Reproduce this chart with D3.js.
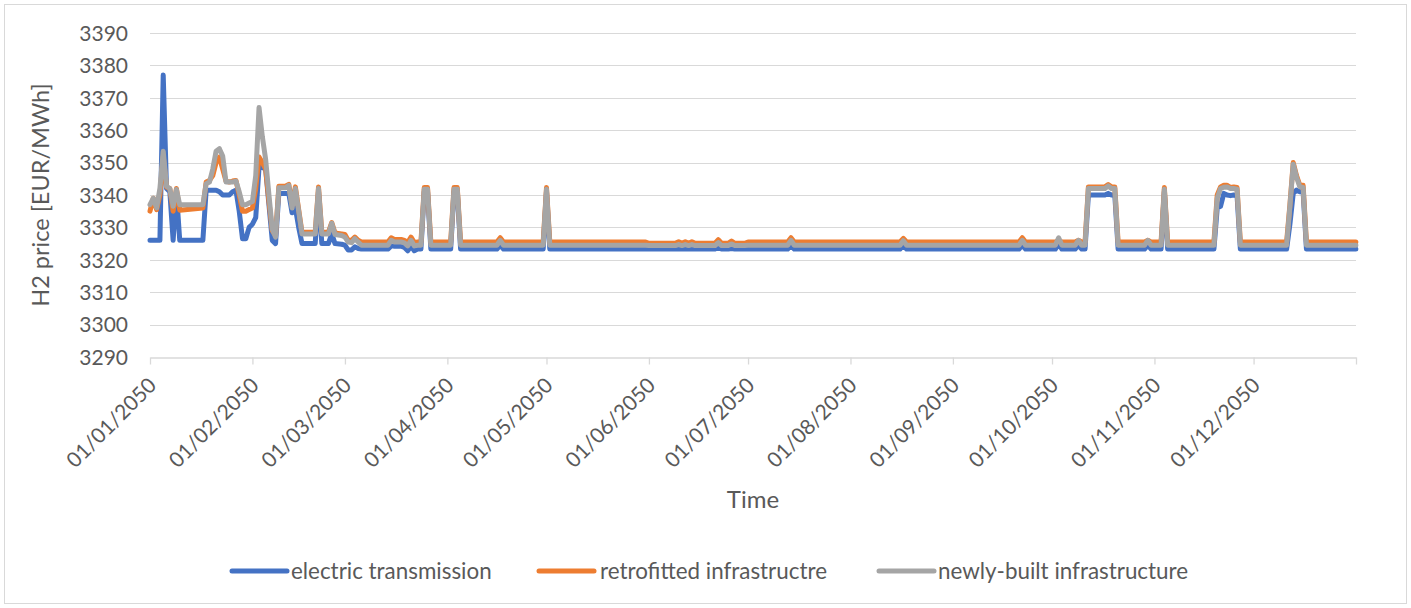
<!DOCTYPE html>
<html>
<head>
<meta charset="utf-8">
<script src="https://cdn.jsdelivr.net/npm/d3@7"></script>
<style>
  html, body { margin: 0; padding: 0; background: #ffffff; }
  svg text { font-family: Lato, "Open Sans", sans-serif; fill: #595959; }
</style>
</head>
<body>
<svg id="chart" width="1411" height="608"></svg>
<script>
// Daily H2 price observations for 2050 (EUR/MWh), one shared date list for all three scenarios
const dates = [
  "2050-01-01","2050-01-02","2050-01-03","2050-01-04","2050-01-05","2050-01-06","2050-01-07","2050-01-08","2050-01-09","2050-01-10",
  "2050-01-17","2050-01-18","2050-01-19","2050-01-20","2050-01-21","2050-01-22","2050-01-23","2050-01-24","2050-01-25","2050-01-26",
  "2050-01-27","2050-01-28","2050-01-29","2050-01-30","2050-01-31",
  "2050-02-01","2050-02-02","2050-02-03","2050-02-04","2050-02-05","2050-02-06","2050-02-07","2050-02-08","2050-02-09","2050-02-10",
  "2050-02-11","2050-02-12","2050-02-13","2050-02-14","2050-02-15","2050-02-16","2050-02-19","2050-02-20","2050-02-21","2050-02-22",
  "2050-02-24","2050-02-25","2050-02-26","2050-02-28",
  "2050-03-01","2050-03-02","2050-03-03","2050-03-04","2050-03-05","2050-03-06","2050-03-14","2050-03-15","2050-03-16","2050-03-18",
  "2050-03-19","2050-03-20","2050-03-21","2050-03-22","2050-03-23","2050-03-24","2050-03-25","2050-03-26","2050-03-27",
  "2050-04-02","2050-04-03","2050-04-04","2050-04-05","2050-04-16","2050-04-17","2050-04-18","2050-04-30",
  "2050-05-01","2050-05-02","2050-05-31",
  "2050-06-01","2050-06-09","2050-06-10","2050-06-11","2050-06-12","2050-06-13","2050-06-14","2050-06-15","2050-06-21","2050-06-22",
  "2050-06-23","2050-06-25","2050-06-26","2050-06-27","2050-06-30",
  "2050-07-01","2050-07-13","2050-07-14","2050-07-15",
  "2050-08-16","2050-08-17","2050-08-18",
  "2050-09-21","2050-09-22","2050-09-23",
  "2050-10-02","2050-10-03","2050-10-04","2050-10-08","2050-10-09","2050-10-10","2050-10-11","2050-10-12","2050-10-17","2050-10-18",
  "2050-10-19","2050-10-20","2050-10-21","2050-10-29","2050-10-30","2050-10-31",
  "2050-11-03","2050-11-04","2050-11-05","2050-11-19","2050-11-20","2050-11-21","2050-11-22","2050-11-23","2050-11-24","2050-11-25",
  "2050-11-26","2050-11-27",
  "2050-12-11","2050-12-12","2050-12-13","2050-12-14","2050-12-15","2050-12-16","2050-12-17","2050-12-31T23:00Z"
];

const electricTransmission = [
  3326,3326,3326,3326,3377,3342,3341,3326,3341,3326,
  3326,3341.5,3341.5,3341.5,3341.5,3341,3340,3340,3340,3341,
  3341.5,3335,3326.5,3326.5,3330,
  3331,3333,3348.5,3348.5,3348,3337,3326,3325,3340.5,3340.5,
  3340.5,3340.5,3334.5,3336,3330,3325,3325,3325,3341,3325,
  3325,3328,3325,3324.8,
  3324.5,3323,3323,3324,3323.5,3323.3,3323.3,3324.3,3324.2,3324.2,
  3323.8,3322.8,3324.3,3322.8,3323.3,3323.3,3341,3341,3323.3,
  3323.3,3341,3341,3323.3,3323.3,3324.5,3323.3,3323.3,
  3341,3323.3,3323.3,
  3323.3,3323.3,3323.3,3323.3,3323.3,3323.3,3323.3,3323.3,3323.3,3323.8,
  3323.3,3323.3,3323.5,3323.3,3323.3,
  3323.3,3323.3,3324.5,3323.3,
  3323.3,3324.5,3323.3,
  3323.3,3324.5,3323.3,
  3323.3,3325,3323.3,3323.3,3324.5,3323.3,3323.3,3340,3340,3340.5,
  3340,3340,3323.3,3323.3,3324.5,3323.3,
  3323.3,3341,3323.3,3323.3,3336,3336.5,3340.5,3340,3339.8,3340,
  3339.8,3323.3,
  3323.3,3331,3340.5,3341.5,3341,3341,3323.3,3323.3
];

const retrofittedInfrastructure = [
  3335,3339,3335.5,3340,3352,3342.5,3342,3335,3342,3335.3,
  3336,3344,3344.5,3346,3350,3351.7,3348,3344.3,3344,3344.3,
  3344.5,3340,3335,3335,3335.5,
  3336,3342,3351.7,3350,3348,3338,3329,3327.5,3342.7,3342.7,
  3342.7,3343.3,3337,3342.5,3335.5,3328.5,3328.5,3328.5,3342.5,3328.5,
  3328.5,3331.5,3328.3,3328,
  3327.8,3326,3326,3327,3326,3325.5,3325.5,3326.8,3326.3,3326.3,
  3326,3325.3,3327,3325.3,3325.5,3325.5,3342.3,3342.3,3325.5,
  3325.5,3342.3,3342.3,3325.5,3325.5,3326.8,3325.5,3325.5,
  3342.3,3325.5,3325.5,
  3325.1,3325.1,3325.6,3325.1,3325.6,3325.1,3325.6,3325.1,3325.1,3326.2,
  3325.1,3325.1,3325.8,3325.1,3325.1,
  3325.5,3325.5,3326.8,3325.5,
  3325.5,3326.6,3325.5,
  3325.5,3326.8,3325.5,
  3325.5,3326,3325.5,3325.5,3326,3325.5,3325.5,3342.5,3342.5,3343.2,
  3342.5,3342.5,3325.5,3325.5,3326,3325.5,
  3325.5,3342.3,3325.5,3325.5,3340,3342.5,3343,3343,3342.3,3342.5,
  3342.3,3325.5,
  3325.5,3337,3350,3346,3343,3343,3325.5,3325.5
];

const newlyBuiltInfrastructure = [
  3337,3339,3336,3342,3353.5,3342.7,3342,3336.5,3341.7,3337,
  3337,3343.5,3344,3348,3353.5,3354.3,3352,3344,3344,3344,
  3344.3,3341,3337,3337,3337.5,
  3338,3346,3367,3358,3351,3340,3329.5,3327,3342.2,3342.2,
  3342.2,3343,3336,3342,3335,3328,3328,3328,3342,3328,
  3328,3331.3,3327.8,3327.5,
  3327,3325.5,3325.3,3326.5,3325.5,3324.5,3324.5,3326,3325.5,3325.5,
  3325.2,3324.3,3326,3324.3,3324.5,3324.5,3341.8,3341.8,3324.5,
  3324.5,3341.8,3341.8,3324.5,3324.5,3326,3324.5,3324.5,
  3341.8,3324.5,3324.5,
  3324.4,3324.4,3324.7,3324.4,3324.7,3324.4,3324.7,3324.4,3324.4,3325.3,
  3324.4,3324.4,3324.9,3324.4,3324.4,
  3324.5,3324.5,3326,3324.5,
  3324.5,3325.9,3324.5,
  3324.5,3326,3324.5,
  3324.5,3326.8,3324.5,3324.5,3326,3324.5,3324.5,3342,3342,3342.8,
  3342,3342,3324.5,3324.5,3326,3324.5,
  3324.5,3341.8,3324.5,3324.5,3339,3342,3342.4,3342.5,3342,3342,
  3341.8,3324.5,
  3324.5,3336.5,3349.5,3345.5,3342.5,3342.3,3324.5,3324.5
];

const yTicks = [3290, 3300, 3310, 3320, 3330, 3340, 3350, 3360, 3370, 3380, 3390];
const seriesNames = ["electric transmission", "retrofitted infrastructre", "newly-built infrastructure"];
const seriesColors = ["#4472C4", "#ED7D31", "#A5A5A5"];
const yTitle = "H2 price [EUR/MWh]";
const xTitle = "Time";

const svg = d3.select("#chart");
const W = 1411, H = 608;
const plot = { left: 150, right: 1356, top: 33, bottom: 357 };

// chart frame
svg.append("rect")
  .attr("x", 4.5).attr("y", 4.5)
  .attr("width", W - 9).attr("height", H - 9)
  .attr("fill", "#ffffff").attr("stroke", "#d9d9d9").attr("stroke-width", 1);

const parse = s => new Date(s.length === 10 ? s + "T00:00Z" : s);
const x = d3.scaleUtc()
  .domain([parse("2050-01-01"), parse("2051-01-01")])
  .range([plot.left, plot.right]);
const y = d3.scaleLinear()
  .domain([d3.min(yTicks), d3.max(yTicks)])
  .range([plot.bottom, plot.top]);

// horizontal gridlines
svg.append("g")
  .selectAll("line")
  .data(yTicks.filter(v => v !== d3.min(yTicks)))
  .join("line")
  .attr("x1", plot.left).attr("x2", plot.right)
  .attr("y1", d => Math.round(y(d)) + 0.5).attr("y2", d => Math.round(y(d)) + 0.5)
  .attr("stroke", "#d9d9d9").attr("stroke-width", 1);

// y axis labels
const yAxis = svg.append("g")
  .attr("transform", `translate(${plot.left - 22},0)`)
  .call(d3.axisLeft(y).tickValues(yTicks).tickSize(0).tickPadding(0).tickFormat(d3.format("d")));
yAxis.select(".domain").remove();
yAxis.selectAll("text")
  .attr("font-size", 21).attr("font-family", "Lato, sans-serif").attr("fill", "#595959")
  .attr("dy", "0.35em");

// x axis with month ticks
const monthTicks = d3.utcMonth.range(parse("2050-01-01"), parse("2050-12-02"));
const xAxis = svg.append("g")
  .attr("transform", `translate(0,${Math.round(plot.bottom) + 0.5})`)
  .call(d3.axisBottom(x)
    .tickValues(monthTicks.concat([parse("2051-01-01")]))
    .tickSize(7).tickSizeOuter(0)
    .tickFormat(d => d.getUTCFullYear() === 2051 ? "" : d3.utcFormat("%d/%m/%Y")(d)));
xAxis.select(".domain").attr("stroke", "#d9d9d9").attr("stroke-width", 1.3);
xAxis.selectAll(".tick line").attr("stroke", "#d9d9d9").attr("stroke-width", 1.3);
xAxis.selectAll(".tick text")
  .attr("font-size", 21).attr("font-family", "Lato, sans-serif").attr("fill", "#595959")
  .attr("text-anchor", "end")
  .attr("transform", "translate(2,24) rotate(-45)")
  .attr("x", 0).attr("y", 0).attr("dy", "0.35em");

// series lines
const seriesValues = [electricTransmission, retrofittedInfrastructure, newlyBuiltInfrastructure];
const line = d3.line()
  .x(d => x(d.date))
  .y(d => y(d.value));
seriesValues.forEach((vals, i) => {
  const pts = dates.map((s, k) => ({ date: parse(s), value: vals[k] }));
  svg.append("path")
    .datum(pts)
    .attr("d", line)
    .attr("fill", "none")
    .attr("stroke", seriesColors[i])
    .attr("stroke-width", 5)
    .attr("stroke-linejoin", "round")
    .attr("stroke-linecap", "round");
});

// axis titles
svg.append("text")
  .attr("x", 753).attr("y", 508)
  .attr("text-anchor", "middle")
  .attr("font-size", 24)
  .text(xTitle);
svg.append("text")
  .attr("transform", `translate(49,${(plot.top + plot.bottom) / 2}) rotate(-90)`)
  .attr("text-anchor", "middle")
  .attr("font-size", 23.5)
  .text(yTitle);

// legend
const legendItems = [
  { sx: 232, tx: 291 },
  { sx: 539, tx: 600 },
  { sx: 879, tx: 938 }
];
const legend = svg.append("g");
legendItems.forEach((p, i) => {
  legend.append("line")
    .attr("x1", p.sx).attr("x2", p.sx + 55)
    .attr("y1", 571).attr("y2", 571)
    .attr("stroke", seriesColors[i]).attr("stroke-width", 5)
    .attr("stroke-linecap", "round");
  legend.append("text")
    .attr("x", p.tx).attr("y", 571).attr("dy", "0.35em")
    .attr("font-size", 22.4)
    .text(seriesNames[i]);
});
</script>
</body>
</html>
